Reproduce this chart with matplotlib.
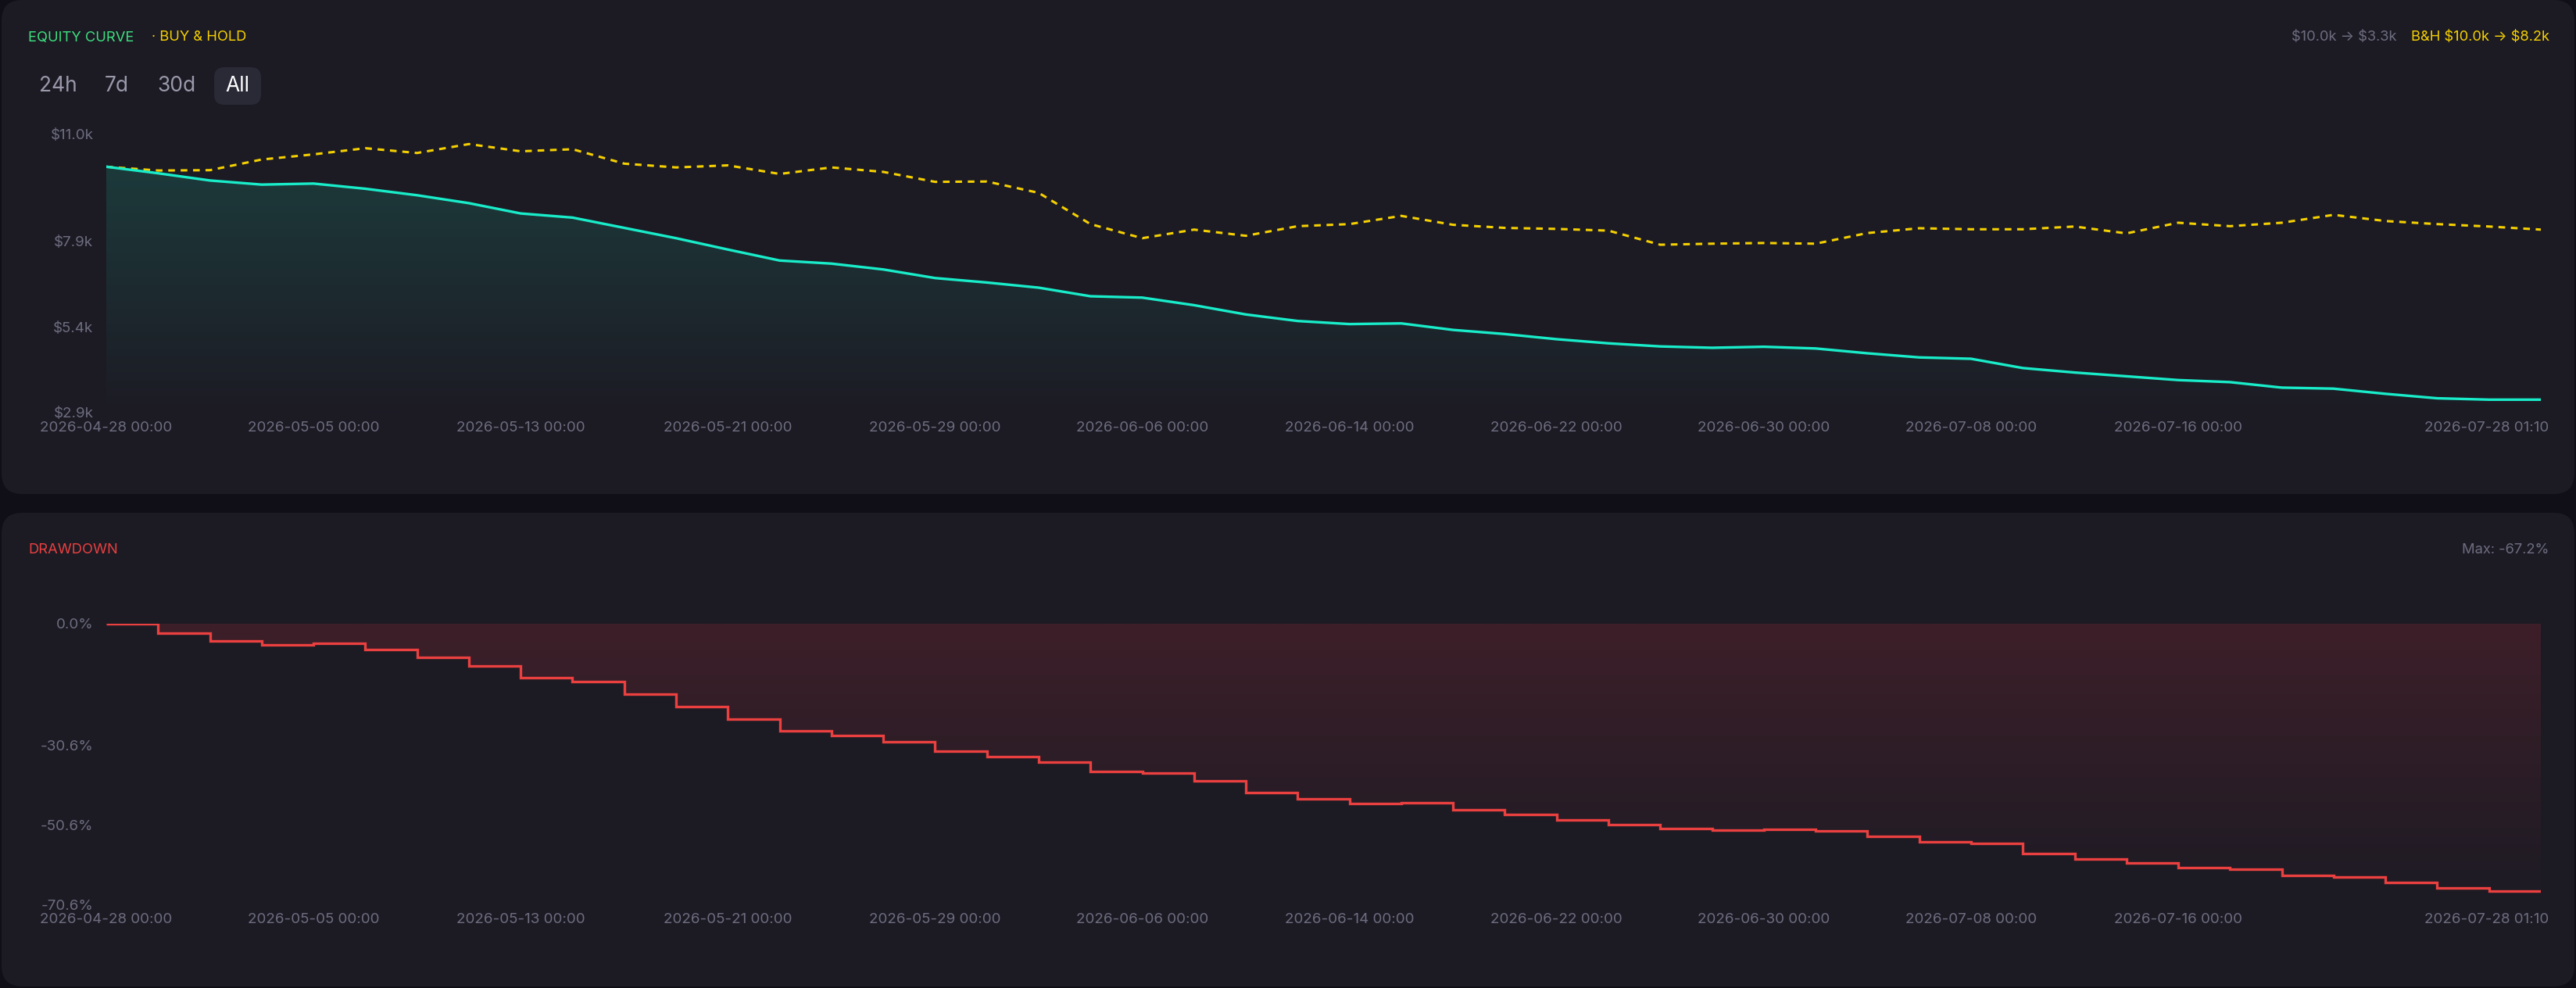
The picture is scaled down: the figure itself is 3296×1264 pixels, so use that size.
import numpy as np
import matplotlib
matplotlib.use("Agg")
import matplotlib.pyplot as plt
from matplotlib.patches import FancyBboxPatch, Polygon
from matplotlib.colors import LinearSegmentedColormap
import matplotlib.transforms as mtrans

plt.rcParams['font.family'] = ['Inter', 'DejaVu Sans']
plt.rcParams['text.parse_math'] = False

# ---------------- data ----------------
equity_k = [10.06, 9.87, 9.66, 9.54, 9.57, 9.42, 9.23, 9.00, 8.70, 8.58, 8.28, 7.98,
            7.65, 7.33, 7.24, 7.07, 6.82, 6.69, 6.54, 6.29, 6.25, 6.03, 5.76, 5.57,
            5.48, 5.50, 5.31, 5.19, 5.04, 4.92, 4.83, 4.79, 4.82, 4.77, 4.63, 4.51,
            4.47, 4.20, 4.07, 3.96, 3.85, 3.79, 3.63, 3.60, 3.45, 3.32, 3.28, 3.28]
buyhold_k = [10.06, 9.95, 9.96, 10.27, 10.42, 10.60, 10.46, 10.72, 10.51, 10.57, 10.15, 10.04,
             10.10, 9.85, 10.04, 9.91, 9.62, 9.63, 9.30, 8.39, 7.98, 8.23, 8.05, 8.33,
             8.39, 8.63, 8.37, 8.28, 8.25, 8.20, 7.79, 7.82, 7.84, 7.82, 8.13, 8.27,
             8.24, 8.24, 8.32, 8.12, 8.43, 8.33, 8.43, 8.66, 8.48, 8.39, 8.32, 8.23]
drawdown_pct = [0.0, -2.3, -4.3, -5.3, -4.9, -6.4, -8.4, -10.7, -13.6, -14.6, -17.7, -20.8,
                -23.9, -26.9, -28.1, -29.6, -32.1, -33.5, -34.9, -37.2, -37.5, -39.6, -42.5, -44.1,
                -45.2, -45.0, -46.8, -48.0, -49.3, -50.6, -51.6, -51.9, -51.7, -52.1, -53.5, -54.8,
                -55.2, -57.9, -59.1, -60.2, -61.3, -61.8, -63.4, -63.7, -65.1, -66.5, -67.2]
x_tick_pos = [0, 4, 8, 12, 16, 20, 24, 28, 32, 36, 40, 47]
x_tick_labels = ["2026-04-28 00:00", "2026-05-05 00:00", "2026-05-13 00:00", "2026-05-21 00:00",
                 "2026-05-29 00:00", "2026-06-06 00:00", "2026-06-14 00:00", "2026-06-22 00:00",
                 "2026-06-30 00:00", "2026-07-08 00:00", "2026-07-16 00:00", "2026-07-28 01:10"]
eq_ticks = [2.9, 5.4, 7.9, 11.0]
eq_tick_labels = ["$2.9k", "$5.4k", "$7.9k", "$11.0k"]
dd_ticks = [0.0, -30.6, -50.6, -70.6]
dd_tick_labels = ["0.0%", "-30.6%", "-50.6%", "-70.6%"]

# ---------------- style ----------------
W, H = 3296, 1264
BG = "#100f18"
CARD = "#1c1b24"
GRAY = "#6e6d80"
CYAN = "#19ecc9"
YEL = "#f5d000"
RED = "#ea4040"
GREEN = "#3ee07f"

fig = plt.figure(figsize=(W / 100, H / 100), dpi=100, facecolor=BG)

def px(x, y):
    return x / W, 1 - y / H

for (y0, y1) in [(0, 632), (656, 1262)]:
    fig.patches.append(FancyBboxPatch((2 / W, 1 - y1 / H), (W - 4) / W, (y1 - y0) / H,
                                      boxstyle="round,pad=0,rounding_size=0.008",
                                      transform=fig.transFigure, facecolor=CARD,
                                      edgecolor="none", zorder=-5, mutation_aspect=W / H))

HFS = 13.2
fig.text(*px(36, 48), "EQUITY CURVE", color=GREEN, fontsize=HFS, va="center", ha="left")
fig.text(*px(194, 48), "· BUY & HOLD", color=YEL, fontsize=HFS, va="center", ha="left")
fig.text(*px(3262, 48), "B&H $10.0k → $8.2k", color=YEL, fontsize=HFS, va="center", ha="right")
fig.text(*px(3066, 48), "$10.0k → $3.3k", color=GRAY, fontsize=HFS, va="center", ha="right")

fig.patches.append(FancyBboxPatch((274 / W, 1 - 134 / H), 60 / W, 48 / H,
                                  boxstyle="round,pad=0,rounding_size=0.004",
                                  transform=fig.transFigure, facecolor="#2a2a37",
                                  edgecolor="none", zorder=-4, mutation_aspect=W / H))
for xx, lab, col in [(74, "24h", "#9a99aa"), (149, "7d", "#9a99aa"), (226, "30d", "#9a99aa"), (304, "All", "#ffffff")]:
    fig.text(*px(xx, 110), lab, color=col, fontsize=19, va="center", ha="center")

fig.text(*px(36, 704), "DRAWDOWN", color=RED, fontsize=HFS, va="center", ha="left")
fig.text(*px(3261, 703), "Max: -67.2%", color=GRAY, fontsize=HFS, va="center", ha="right")

x = np.arange(len(equity_k))
grad = np.linspace(0, 1, 256).reshape(-1, 1)

ax1 = fig.add_axes([136 / W, 1 - 528 / H, (3251 - 136) / W, (528 - 172) / H], zorder=5)
ax1.set_facecolor("none")
cm_eq = LinearSegmentedColormap.from_list("eq", [CARD, "#1d3a3b"])
im = ax1.imshow(grad, aspect="auto", cmap=cm_eq, extent=[0, 47, 2.9, 10.1], origin="lower", zorder=1)
poly = Polygon(np.column_stack([np.r_[x, x[-1], 0], np.r_[equity_k, 2.9, 2.9]]),
               closed=True, transform=ax1.transData, facecolor="none", edgecolor="none")
ax1.add_patch(poly)
im.set_clip_path(poly)
ax1.plot(x, buyhold_k, color=YEL, lw=2.2, ls=(0, (2.8, 2.4)), zorder=3)
ax1.plot(x, equity_k, color=CYAN, lw=2.4, zorder=4)
ax1.set_xlim(0, 47)
ax1.set_ylim(2.9, 11.0)
ax1.set_yticks(eq_ticks, eq_tick_labels)
ax1.set_xticks(x_tick_pos, x_tick_labels)

ax2 = fig.add_axes([136 / W, 1 - 1157 / H, (3251 - 136) / W, (1157 - 798) / H], zorder=5)
ax2.set_facecolor("none")
edges = np.arange(len(drawdown_pct) + 1)
cm_dd = LinearSegmentedColormap.from_list("dd", [CARD, "#3d1f29"])
im2 = ax2.imshow(grad, aspect="auto", cmap=cm_dd, extent=[0, 47, -70.6, 0], origin="lower", zorder=1)
xs = np.repeat(edges, 2)[1:-1]
ys = np.repeat(drawdown_pct, 2)
poly2 = Polygon(np.column_stack([np.r_[xs, 47, 0], np.r_[ys, 0, 0]]), closed=True,
                transform=ax2.transData, facecolor="none", edgecolor="none")
ax2.add_patch(poly2)
im2.set_clip_path(poly2)
ax2.stairs(drawdown_pct, edges, color=RED, lw=2.4, baseline=None, zorder=3)
ax2.set_xlim(0, 47)
ax2.set_ylim(-70.6, 0)
ax2.set_yticks(dd_ticks, dd_tick_labels)
ax2.set_xticks(x_tick_pos, x_tick_labels)

for a in (ax1, ax2):
    for s in a.spines.values():
        s.set_visible(False)
    a.tick_params(axis="both", length=0, colors=GRAY, labelsize=13.5)
    a.tick_params(axis="y", pad=12)
    a.tick_params(axis="x", pad=8)
    a.grid(False)
    t = a.xaxis.get_major_ticks()[-1].label1
    t.set_horizontalalignment("right")
    t.set_transform(t.get_transform() + mtrans.ScaledTranslation(0.1, 0, fig.dpi_scale_trans))

fig.savefig("out.png", dpi=100, facecolor=BG)
